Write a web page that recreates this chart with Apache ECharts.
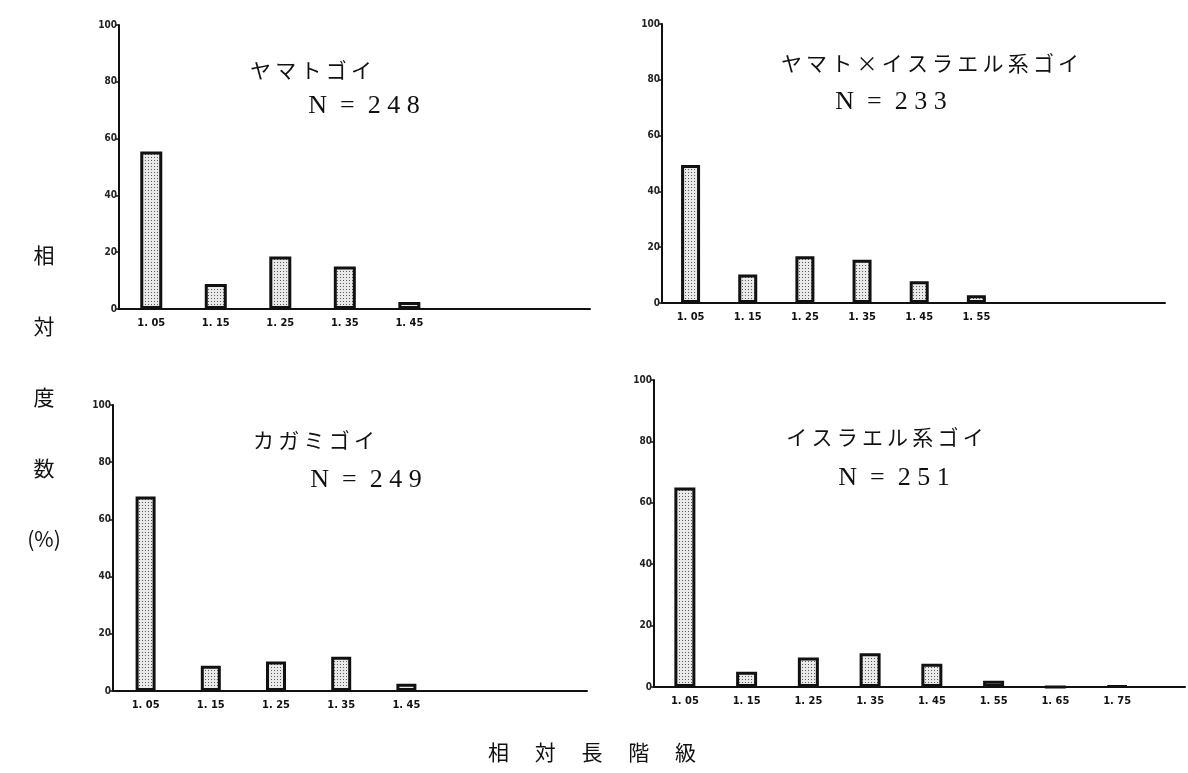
<!DOCTYPE html>
<html>
<head>
<meta charset="utf-8">
<script src="https://cdn.jsdelivr.net/npm/echarts@6/dist/echarts.min.js"></script>
<style>
  html, body { margin: 0; padding: 0; background: #fff; }
  #chart { width: 1188px; height: 773px; }
</style>
</head>
<body>
<div id="chart"></div>
<script>
// Relative length classes (class mid-values) and their tick labels
const classes = [1.05, 1.15, 1.25, 1.35, 1.45, 1.55, 1.65, 1.75];
const classLabels = ['1. 05', '1. 15', '1. 25', '1. 35', '1. 45', '1. 55', '1. 65', '1. 75'];

// Relative frequency (%) per class for each strain
const yamatoValues = [55.5, 8.8, 18.5, 15.0, 2.5];
const crossValues = [49.5, 10.2, 16.8, 15.5, 7.8, 2.8];
const kagamiValues = [68.0, 8.8, 10.3, 12.0, 2.5];
const israelValues = [65.0, 5.0, 9.6, 11.0, 7.6, 2.0, 0, 0.4];

// Strain names and sample sizes
const strainNames = ['ヤマトゴイ', 'ヤマト×イスラエル系ゴイ', 'カガミゴイ', 'イスラエル系ゴイ'];
const sampleSizes = ['248', '233', '249', '251'];

// Stippled fill used for the bars
function stipple() {
  const c = document.createElement('canvas');
  c.width = 3; c.height = 3;
  const g = c.getContext('2d');
  g.fillStyle = '#e9e9e9';
  g.fillRect(0, 0, 3, 3);
  g.fillStyle = '#5a5a5a';
  g.fillRect(1, 1, 1, 1);
  return c;
}
const fill = { image: stipple(), repeat: 'repeat' };

const panels = [
  { values: yamatoValues, grid: { left: 119, top: 25, width: 471, height: 284 }, xMax: 1.73, barWidth: 22, title: [311, 70], nPos: [364, 106] },
  { values: crossValues, grid: { left: 662, top: 24, width: 503, height: 279 }, xMax: 1.88, barWidth: 19, title: [930, 63], nPos: [891, 102] },
  { values: kagamiValues, grid: { left: 113, top: 405, width: 474, height: 286 }, xMax: 1.727, barWidth: 20, title: [314, 440], nPos: [366, 480] },
  { values: israelValues, grid: { left: 654, top: 380, width: 531, height: 307 }, xMax: 1.86, barWidth: 21, title: [885, 437], nPos: [894, 478] }
];

const tickFont = "'DejaVu Sans Condensed', 'DejaVu Sans', sans-serif";
const jpFont = "'Noto Sans CJK JP', sans-serif";
const serifFont = "'Liberation Serif', 'DejaVu Serif', serif";

const grids = [], xAxes = [], yAxes = [], series = [], graphics = [];

panels.forEach((p, i) => {
  const used = classes.slice(0, p.values.length);
  grids.push(Object.assign({ containLabel: false }, p.grid));
  xAxes.push({
    type: 'value', gridIndex: i, min: 1.0, max: p.xMax,
    axisLine: { show: true, lineStyle: { color: '#111', width: 2 } },
    axisTick: { show: false },
    splitLine: { show: false },
    axisLabel: {
      customValues: used,
      formatter: v => {
        const k = classes.findIndex(c => Math.abs(c - v) < 1e-6);
        return k >= 0 ? classLabels[k] : '';
      },
      color: '#111', fontFamily: tickFont, fontWeight: 'bold', fontSize: 11, margin: 9
    }
  });
  yAxes.push({
    type: 'value', gridIndex: i, min: 0, max: 100, interval: 20,
    axisLine: { show: true, lineStyle: { color: '#111', width: 2 } },
    axisTick: { show: true, length: 3, lineStyle: { color: '#111', width: 1.5 } },
    splitLine: { show: false },
    axisLabel: { color: '#222', fontFamily: tickFont, fontWeight: 'bold', fontSize: 10, margin: 2 }
  });
  series.push({
    type: 'bar', xAxisIndex: i, yAxisIndex: i,
    barWidth: p.barWidth,
    data: p.values.map((v, k) => [used[k], v]),
    itemStyle: { color: fill, borderColor: '#111', borderWidth: 3 },
    silent: true
  });
  graphics.push({
    type: 'text', x: p.title[0], y: p.title[1],
    style: {
      text: Array.from(strainNames[i]).join('\u2009'),
      font: '21px ' + jpFont, fill: '#111', textAlign: 'center', textVerticalAlign: 'middle'
    }
  });
  graphics.push({
    type: 'text', x: p.nPos[0], y: p.nPos[1],
    style: {
      text: 'N  =  ' + Array.from(sampleSizes[i]).join(' '),
      font: '26px ' + serifFont, fill: '#111', textAlign: 'center', textVerticalAlign: 'middle'
    }
  });
});

// Shared axis titles
graphics.push({
  type: 'text', x: 44, y: 219.5,
  style: {
    text: '相\n対\n度\n数\n(%)', font: '21px ' + jpFont, lineHeight: 71,
    fill: '#111', textAlign: 'center', textVerticalAlign: 'top'
  }
});
graphics.push({
  type: 'text', x: 592, y: 752,
  style: {
    text: '相　 対　 長　 階　 級', font: '21px ' + jpFont,
    fill: '#111', textAlign: 'center', textVerticalAlign: 'middle'
  }
});

const chart = echarts.init(document.getElementById('chart'), null, { renderer: 'canvas' });
chart.setOption({
  backgroundColor: '#ffffff',
  animation: false,
  grid: grids,
  xAxis: xAxes,
  yAxis: yAxes,
  series: series,
  graphic: graphics
});
</script>
</body>
</html>
